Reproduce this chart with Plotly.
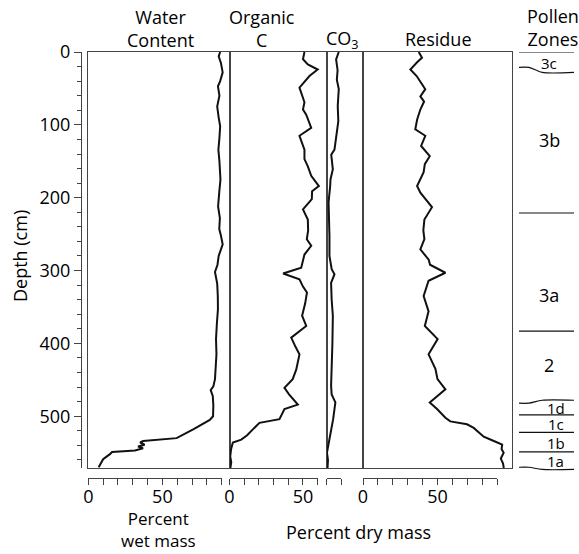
import plotly.graph_objects as go

W, H = 579, 554

# ---------------- data (depth in cm, values in percent) ----------------
depth_water = [0, 6, 15, 28, 40, 47, 60, 75, 90, 102, 118, 134, 150, 165, 175, 192, 212, 228,
               243, 252, 264, 280, 292, 302, 318, 335, 353, 372, 394, 415, 435, 449, 459, 464,
               472, 485, 500, 505, 518, 530, 534, 536, 539, 541.5, 544, 547, 549, 552, 559, 570]
water_pct = [89, 88, 89.5, 90.7, 89, 87.5, 88.5, 87, 88, 89, 88.5, 87.8, 88.5, 89, 89.2, 88.4, 87.6, 88.8,
             88.4, 89.5, 90.7, 88, 87.2, 85.5, 87, 87.4, 87.5, 86.8, 86.2, 86.5, 85.8, 85.5, 84.4, 82.6,
             84, 84.4, 84.2, 82, 70.8, 59.6, 37, 35, 38, 33.6, 37, 31.5, 16, 14.6, 10, 7]

depth_org = [0, 10, 17, 24, 33, 49, 60, 69, 79, 86, 104, 115, 134, 147, 157, 170, 184, 191, 202, 216,
             230, 245, 257, 266, 278, 289, 296, 304, 312, 322, 330, 345, 362, 376, 392, 405, 415, 436,
             449, 461, 470, 484, 490, 504, 509, 518, 526, 532, 536, 545, 555, 563, 571]
organic_c = [51, 50, 53.3, 60, 54.4, 47.6, 49.5, 51, 50, 52.2, 55.6, 47.6, 51, 51, 53.3, 55.6, 60.8, 56.2, 56, 50,
             53.3, 53.5, 52.6, 55.6, 51, 49.9, 48.8, 36.5, 47.6, 50, 52.7, 51.5, 49.4, 52.2, 42, 45, 47.6, 45.4,
             43, 37.4, 40.5, 46.5, 37.4, 34, 20.4, 15.9, 12, 8, 2.3, 1.1, 0.5, 1.2, 0.6]

depth_co3 = [0, 10, 25, 38, 51, 74, 95, 110, 125, 134, 141, 161, 175, 184, 206, 230, 253, 280, 298, 305,
             317, 340, 362, 400, 430, 458, 470, 481, 504, 531, 550, 560, 571]
co3_pct = [8.3, 6.5, 7.5, 7, 8.3, 7.6, 8, 7, 6.5, 5.4, 3.2, 4.3, 2.7, 2.5, 1.4, 1.8, 2, 2, 3.5, 5.4,
           3.1, 3.5, 4.3, 4, 3.5, 3.1, 3.5, 6, 4.5, 2, 0.3, 1, 0.7]

depth_res = [0, 8, 14, 24, 33, 51, 61, 68, 79, 93, 106, 115, 129, 143, 154, 165, 184, 193, 213, 230,
             245, 257, 271, 285, 292, 303, 314, 335, 356, 376, 394, 415, 435, 449, 463, 481, 490, 502,
             507, 511, 516, 528, 534, 539, 545, 550, 558, 565, 571]
residue_pct = [37.4, 39.6, 36.3, 31.8, 36, 41.8, 38.5, 41, 38.5, 36.3, 35.1, 41.8, 39, 44.8, 41.5, 40.7, 36.3, 38.5, 46.3, 41.2,
               40.5, 41.2, 38.5, 44.1, 45, 55.3, 44, 40.7, 44, 41.5, 50.1, 44, 48.6, 50, 55.3, 44.8, 49.7, 55.3,
               58.6, 69.8, 74.3, 81, 87.8, 93.4, 93, 94.4, 92.5, 94, 94.5]

zone_names = ["3c", "3b", "3a", "2", "1d", "1c", "1b", "1a"]
zone_bounds = [0, 28, 221, 383, 478, 498, 522, 549, 573]
zone_label_depth = [15, 121, 334, 430, 488, 511, 536, 562]
zone_bend = [0, -7, 0, 0, 4, 0, 0, 0, -3]   # left-end offset of curved boundary lines

depth_ticks = [0, 100, 200, 300, 400, 500]
headers = ["Water<br>Content", "Organic<br>C", "CO<sub>3</sub>", "Residue"]

for a, b in [(depth_water, water_pct), (depth_org, organic_c), (depth_co3, co3_pct), (depth_res, residue_pct)]:
    assert len(a) == len(b)

# ---------------- geometry ----------------
def px(x):
    return x / W

def py(y):
    return 1 - y / H

Y_TOP, Y_BOT = 52, 468
DEPTH_MAX = 571
PPC = (Y_BOT - Y_TOP) / DEPTH_MAX
ydom = [py(Y_BOT), py(Y_TOP)]

FRAME = "#444444"
INK = "#111111"
FONT = "Open Sans"
FS = 18

# panel: left px, right px, x-range max, bottom-axis max, data, header centre
panels = [
    (88.3, 229.5, 95.3, 90, depth_water, water_pct, 160),
    (229.5, 326.5, 66.0, 60, depth_org, organic_c, 262),
    (326.5, 363.0, 24.7, 10, depth_co3, co3_pct, 342),
    (363.0, 512.0, 100.0, 90, depth_res, residue_pct, 438),
]

fig = go.Figure()
layout = dict(
    width=W, height=H, margin=dict(l=0, r=0, t=0, b=0),
    paper_bgcolor="white", plot_bgcolor="rgba(0,0,0,0)", showlegend=False,
    template="none", font=dict(family=FONT, size=FS, color="black"),
)
annotations = []


def note(text, x, y, size=FS, **kw):
    d = dict(text=text, x=px(x), y=py(y), xref="paper", yref="paper", showarrow=False,
             xanchor="center", yanchor="middle", borderpad=0,
             font=dict(size=size, family=FONT, color="black"))
    d.update(kw)
    annotations.append(d)


for i, (xl, xr, xmax, axmax, dep, val, hx) in enumerate(panels):
    k = i + 1
    xs = "" if k == 1 else str(k)
    fig.add_trace(go.Scatter(x=val, y=dep, xaxis="x" + xs, yaxis="y" + xs, mode="lines",
                             line=dict(color=INK, width=2), hoverinfo="skip"))
    layout["xaxis" + xs] = dict(domain=[px(xl), px(xr)], range=[0, xmax], anchor="y" + xs,
                                showline=True, mirror=True, linecolor=FRAME, linewidth=1,
                                ticks="", showticklabels=False, showgrid=False, zeroline=False,
                                automargin=False)
    layout["yaxis" + xs] = dict(domain=ydom, range=[DEPTH_MAX, 0], anchor="x" + xs,
                                showline=True, mirror=True, linecolor=FRAME, linewidth=1,
                                ticks="", showticklabels=False, showgrid=False, zeroline=False,
                                automargin=False)
    # separate bottom scale bar, through the same x scale
    kb = k + 4
    ax_right = xl + (axmax / xmax) * (xr - xl)
    fig.add_trace(go.Scatter(x=val, y=dep, xaxis="x" + str(kb), yaxis="y", mode="lines",
                             line=dict(color="rgba(0,0,0,0)", width=0), hoverinfo="skip"))
    labelled = [v for v in (0, 50) if v <= axmax] if axmax > 10 else [0, 10]
    layout["xaxis" + str(kb)] = dict(domain=[px(xl), px(ax_right)], range=[0, axmax],
                                     anchor="free", position=py(478), side="bottom",
                                     showline=True, linecolor=FRAME, linewidth=1.2,
                                     ticks="outside", ticklen=6, tickwidth=1.2, tickcolor=FRAME,
                                     tickmode="array", tickvals=labelled,
                                     showticklabels=axmax > 10, ticklabelstandoff=-4,
                                     minor=dict(ticks="outside", ticklen=6, tickwidth=1.2,
                                                tickcolor=FRAME, tickmode="linear", tick0=0,
                                                dtick=10, showgrid=False),
                                     tickfont=dict(size=FS, family=FONT, color="black"),
                                     showgrid=False, zeroline=False, automargin=False)
    h = headers[i]
    if "<br>" in h:
        note(h, hx, 28)
    else:
        note(h, hx, 39)

# depth axis (offset to the left of the frame)
fig.add_trace(go.Scatter(x=water_pct, y=depth_water, xaxis="x", yaxis="y5", mode="lines",
                         line=dict(color="rgba(0,0,0,0)", width=0), hoverinfo="skip"))
layout["yaxis5"] = dict(overlaying="y", anchor="free", position=px(81), side="left",
                        range=[DEPTH_MAX, 0], showline=True, linecolor=FRAME, linewidth=1.2,
                        ticks="outside", ticklen=7, tickwidth=1.2, tickcolor=FRAME,
                        tickmode="array", tickvals=depth_ticks,
                        minor=dict(ticks="outside", ticklen=4, tickwidth=1, tickcolor=FRAME,
                                   tickmode="linear", tick0=0, dtick=20, showgrid=False),
                        tickfont=dict(size=FS, family=FONT, color="black"),
                        showgrid=False, zeroline=False, automargin=False)

# pollen zones column
zone_depth_max = 590
layout["xaxis9"] = dict(domain=[px(519), px(574)], range=[0, 1], anchor="y9", visible=False)
layout["yaxis9"] = dict(domain=[py(Y_TOP + zone_depth_max * PPC), py(Y_TOP)],
                        range=[zone_depth_max, 0], anchor="x9", visible=False)
for b, off in zip(zone_bounds, zone_bend):
    if off:
        zx = [0, 0.18, 0.42, 1]
        zy = [b + off, b + off, b, b]
    else:
        zx = [0, 1]
        zy = [b, b]
    fig.add_trace(go.Scatter(x=zx, y=zy, xaxis="x9", yaxis="y9", mode="lines",
                             line=dict(color=INK, width=1.2, shape="spline", smoothing=0.8),
                             hoverinfo="skip"))
for name, d in zip(zone_names, zone_label_depth):
    small = name.startswith("1") or name == "3c"
    annotations.append(dict(text=name, x=0.67 if name.startswith("1") else 0.55, y=d,
                            xref="x9", yref="y9", showarrow=False, borderpad=0,
                            xanchor="center", yanchor="middle",
                            font=dict(size=15 if small else FS, family=FONT, color="black")))

note("Pollen<br>Zones", 553, 27)
note("Depth (cm)", 20, 256, textangle=-90)
note("Percent<br>wet mass", 158, 529, size=17)
note("Percent dry mass", 358, 532)

layout["annotations"] = annotations
fig.update_layout(**layout)
fig.write_html("out.html")
